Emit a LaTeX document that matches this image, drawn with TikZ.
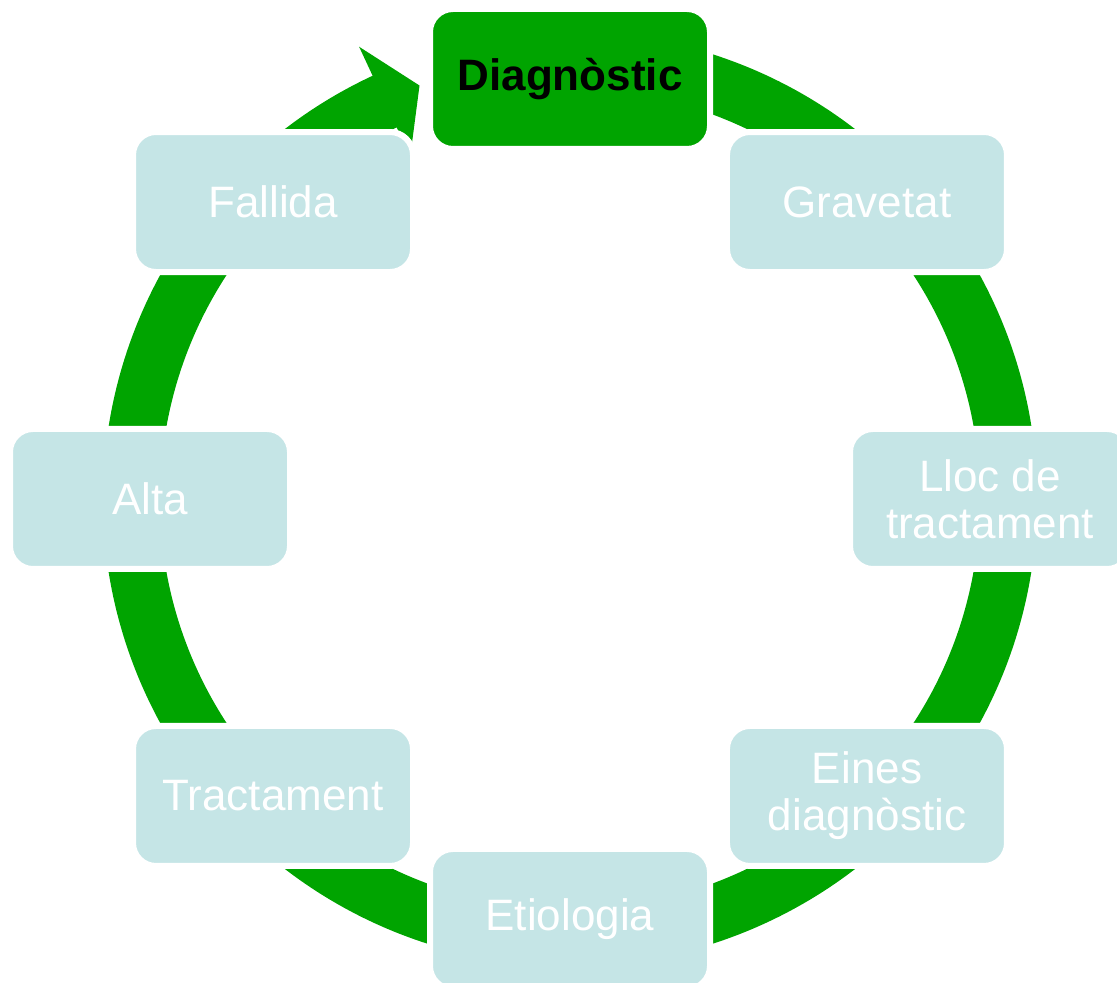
\documentclass[tikz,border=0pt]{standalone}
\usepackage{fontspec}
\setmainfont{Liberation Sans}
\definecolor{cyclegreen}{RGB}{0,164,0}
\definecolor{stagefill}{RGB}{197,229,230}
\tikzset{
  ring/.style={fill=cyclegreen},
  stage/.style={rectangle, rounded corners=23pt, draw=white, line width=6pt,
    fill=stagefill, minimum width=280pt, minimum height=140pt,
    text=white, align=center, inner sep=0pt,
    font=\fontsize{44}{47}\selectfont},
  current/.style={stage, fill=cyclegreen, text=black,
    font=\fontsize{44}{47}\selectfont\bfseries}
}
\begin{document}
\begin{tikzpicture}[x=1pt,y=1pt]
  \useasboundingbox (0,0) rectangle (1117,983);
  \clip (0,0) rectangle (1117,983);
  \begin{scope}[shift={(570,484)}]
    % circular arrow running clockwise, head ending just before the first stage
    \fill[ring] (85:410) arc[start angle=85, end angle=-245, radius=410]
      -- (115:378) -- (110:440) -- (115:499) -- (115:467)
      arc[start angle=-245, end angle=85, radius=467] -- cycle;
    % stages of the cycle
    \node[current] (diag) at (90:420)   {Diagnòstic};
    \node[stage]   (grav) at (45:420)   {Gravetat};
    \node[stage]   (lloc) at (0:420)    {Lloc de\\tractament};
    \node[stage]   (eine) at (-45:420)  {Eines\\diagnòstic};
    \node[stage]   (etio) at (-90:420)  {Etiologia};
    \node[stage]   (trac) at (-135:420) {Tractament};
    \node[stage]   (alta) at (180:420)  {Alta};
    \node[stage]   (fall) at (135:420)  {Fallida};
  \end{scope}
\end{tikzpicture}
\end{document}
